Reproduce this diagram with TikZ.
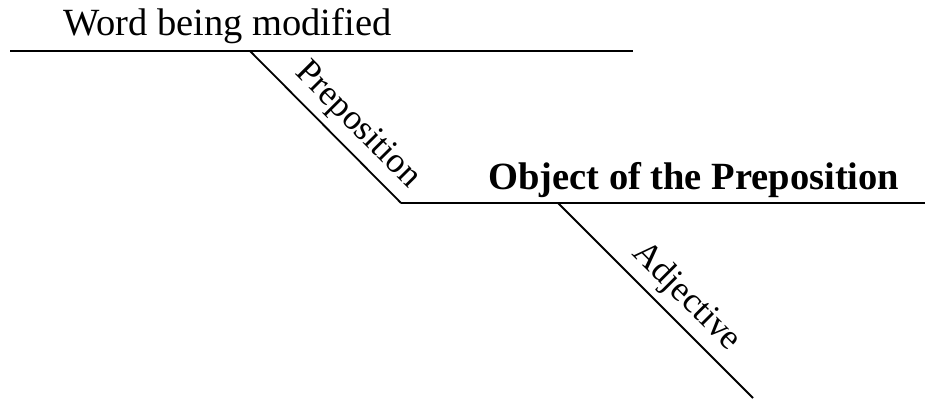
\documentclass[tikz,border=0pt]{standalone}
\usepackage{fontspec}
\setmainfont{Liberation Serif}
\tikzset{
  diagline/.style={line width=1.8pt, line cap=butt},
  headtext/.style={inner sep=0pt, font=\fontsize{38.5}{42}\selectfont},
  slopetext/.style={inner sep=0pt, font=\fontsize{35.5}{40}\selectfont, sloped, above, yshift=7pt}
}
\begin{document}
\begin{tikzpicture}[x=1pt,y=1pt]
  \useasboundingbox (0,0) rectangle (925,400);
  % points (y measured from bottom)
  \coordinate (t1) at (10,349);
  \coordinate (t2) at (633,349);
  \coordinate (d1a) at (250,349);
  \coordinate (d1b) at (401,197);
  \coordinate (m2) at (925,197);
  \coordinate (d2a) at (558,197);
  \coordinate (d2b) at (753,2);
  \draw[diagline] (t1) -- (t2);
  \draw[diagline] (d1a) -- (d1b) node[slopetext, pos=0.6] (prep) {Preposition};
  \draw[diagline] (d1b) -- (m2);
  \draw[diagline] (d2a) -- (d2b) node[slopetext, pos=0.57] (adj) {Adjective};
  \node[headtext, anchor=base west] (word) at (63,364) {Word being modified};
  \node[headtext, anchor=base west] (obj) at (488,211) {\bfseries Object of the Preposition};
\end{tikzpicture}
\end{document}
